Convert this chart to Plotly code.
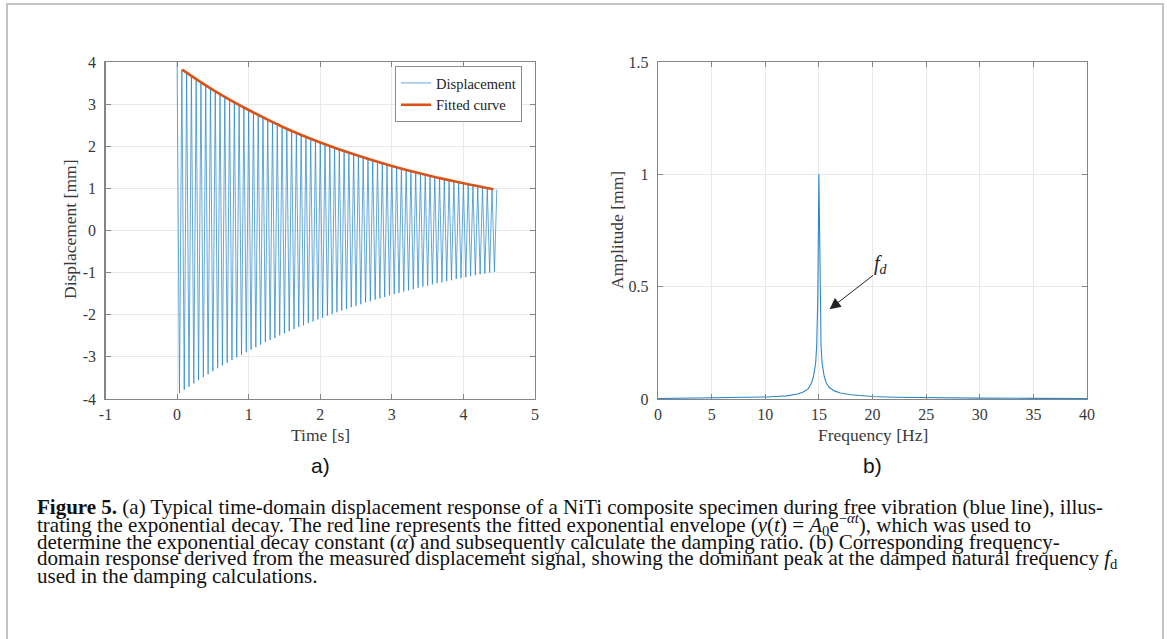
import plotly.graph_objects as go

W, H = 1167, 639

# ---------------- data ----------------
f_d_hz = 15.0  # damped natural frequency (oscillation rate of the record)

# successive positive peaks of the displacement record [mm] (one per cycle)
upper_peaks = [4.00, 3.82, 3.74, 3.67, 3.59, 3.52, 3.45, 3.37, 3.30, 3.24,
               3.17, 3.10, 3.04, 2.98, 2.92, 2.86, 2.80, 2.74, 2.68, 2.63,
               2.57, 2.52, 2.47, 2.42, 2.37, 2.32, 2.27, 2.22, 2.18, 2.13,
               2.09, 2.05, 2.00, 1.96, 1.92, 1.88, 1.84, 1.81, 1.77, 1.73,
               1.70, 1.66, 1.63, 1.59, 1.56, 1.53, 1.50, 1.47, 1.44, 1.41,
               1.38, 1.35, 1.32, 1.29, 1.27, 1.24, 1.21, 1.19, 1.17, 1.14,
               1.12, 1.09, 1.07, 1.05, 1.03, 1.01, 0.99, 0.97]
# successive negative peaks of the displacement record [mm]
lower_peaks = [-3.86, -3.78, -3.71, -3.63, -3.55, -3.48, -3.41, -3.34, -3.27, -3.20,
               -3.14, -3.07, -3.01, -2.95, -2.89, -2.83, -2.77, -2.71, -2.65, -2.60,
               -2.55, -2.49, -2.44, -2.39, -2.34, -2.29, -2.25, -2.20, -2.16, -2.11,
               -2.07, -2.02, -1.98, -1.94, -1.90, -1.86, -1.82, -1.79, -1.75, -1.71,
               -1.68, -1.64, -1.61, -1.58, -1.54, -1.51, -1.48, -1.45, -1.42, -1.39,
               -1.36, -1.33, -1.31, -1.28, -1.25, -1.23, -1.20, -1.18, -1.15, -1.13,
               -1.11, -1.08, -1.06, -1.04, -1.02, -1.00, -0.98]

# fitted exponential envelope read at a few times
fit_time = [0.07, 0.5, 1.0, 1.5, 2.0, 2.5, 3.0, 3.5, 4.0, 4.42]
fit_disp = [3.82, 3.34, 2.86, 2.44, 2.09, 1.79, 1.53, 1.31, 1.12, 0.98]

# frequency-domain amplitude spectrum
freq_hz = [0, 2, 4, 6, 8, 10, 11, 12, 13, 13.5, 14, 14.3, 14.5, 14.7, 14.8, 14.9,
           15.0, 15.1, 15.2, 15.3, 15.5, 15.7, 16, 16.5, 17, 18, 19, 20, 22, 25,
           28, 30, 35, 40]
amp_mm = [0.002, 0.003, 0.004, 0.005, 0.007, 0.009, 0.011, 0.014, 0.022, 0.030,
          0.045, 0.070, 0.100, 0.160, 0.240, 0.450, 1.000, 0.450, 0.240, 0.160,
          0.100, 0.070, 0.050, 0.035, 0.027, 0.019, 0.014, 0.011, 0.008, 0.006,
          0.004, 0.004, 0.003, 0.002]

time_ticks = [-1, 0, 1, 2, 3, 4, 5]
time_tick_text = ["-1", "0", "1", "2", "3", "4", "5"]
disp_ticks = [-4, -3, -2, -1, 0, 1, 2, 3, 4]
disp_tick_text = ["-4", "-3", "-2", "-1", "0", "1", "2", "3", "4"]
freq_ticks = [0, 5, 10, 15, 20, 25, 30, 35, 40]
amp_ticks = [0, 0.5, 1, 1.5]
amp_tick_text = ["0", "0.5", "1", "1.5"]

caption_lines = [
    "<b>Figure 5.</b> (a) Typical time-domain displacement response of a NiTi composite specimen during free vibration (blue line), illus-",
    "trating the exponential decay. The red line represents the fitted exponential envelope (<i>y</i>(<i>t</i>) = <i>A</i><sub>0</sub>e<sup>\u2212<i>\u03b1t</i></sup>), which was used to",
    "determine the exponential decay constant (<i>\u03b1</i>) and subsequently calculate the damping ratio. (b) Corresponding frequency-",
    "domain response derived from the measured displacement signal, showing the dominant peak at the damped natural frequency <i>f</i><sub>d</sub>",
    "used in the damping calculations.",
]

# ---------------- build the displacement record from its peaks ----------------
disp_values = []
for k in range(len(upper_peaks)):
    disp_values.append(upper_peaks[k])
    if k < len(lower_peaks):
        disp_values.append(lower_peaks[k])
half_period = 1.0 / (2.0 * f_d_hz)
disp_time = [i * half_period for i in range(len(disp_values))]


def px(x):
    return x / W


def py(y):
    return 1 - y / H


AX_COL = "#858585"
GRID_COL = "#e9e9e9"
TICK_FONT = dict(family="Liberation Serif", size=16, color="#3a3a3a")
TITLE_FONT = dict(family="Liberation Serif", size=17.5, color="#3a3a3a")

fig = go.Figure()

fig.add_trace(go.Scatter(
    x=disp_time, y=disp_values, mode="lines", name="Displacement",
    line=dict(color="#1f82c8", width=0.7), xaxis="x", yaxis="y"))
fig.add_trace(go.Scatter(
    x=fit_time, y=fit_disp, mode="lines", name="Fitted curve",
    line=dict(color="#D95319", width=2.6, shape="spline"), xaxis="x", yaxis="y"))
fig.add_trace(go.Scatter(
    x=freq_hz, y=amp_mm, mode="lines", name="Spectrum", showlegend=False,
    line=dict(color="#2f86c6", width=1.1), xaxis="x2", yaxis="y2"))

common = dict(showline=True, linecolor=AX_COL, linewidth=1.3, mirror="allticks",
              ticks="inside", ticklen=5, tickcolor=AX_COL, tickwidth=1,
              showgrid=True, gridcolor=GRID_COL, gridwidth=1, zeroline=False,
              tickfont=TICK_FONT, automargin=False)

fig.update_layout(
    template="none",
    width=W, height=H, autosize=False,
    margin=dict(l=0, r=0, t=0, b=0, pad=0, autoexpand=False),
    paper_bgcolor="white", plot_bgcolor="white",
    showlegend=True,
    xaxis=dict(domain=[px(105.5), px(535)], range=[-1, 5], tickvals=time_ticks,
               ticktext=time_tick_text, anchor="y", **common),
    yaxis=dict(domain=[py(399), py(62)], range=[-4, 4], tickvals=disp_ticks,
               ticktext=disp_tick_text, anchor="x", ticklabelstandoff=5, **common),
    xaxis2=dict(domain=[px(658), px(1087)], range=[0, 40], tickvals=freq_ticks,
                anchor="y2", **common),
    yaxis2=dict(domain=[py(399), py(62)], range=[0, 1.5], tickvals=amp_ticks,
                ticktext=amp_tick_text, anchor="x2", ticklabelstandoff=5, **common),
    legend=dict(x=px(522), y=py(66), xanchor="right", yanchor="top",
                bgcolor="white", bordercolor="#8c8c8c", borderwidth=1,
                font=dict(family="Liberation Serif", size=14.5, color="#222"),
                tracegroupgap=0, itemwidth=30),
)

ann = []


def label(x, y, text, font, angle=0):
    ann.append(dict(x=px(x), y=py(y), xref="paper", yref="paper", text=text,
                    showarrow=False, xanchor="center", yanchor="middle",
                    textangle=angle, font=font))


# axis titles
label(320, 435, "Time [s]", TITLE_FONT)
label(872.5, 435, "Frequency [Hz]", TITLE_FONT)
label(70, 230, "Displacement [mm]", TITLE_FONT, -90)
label(617, 230, "Amplitude [mm]", TITLE_FONT, -90)
# panel labels
PANEL_FONT = dict(family="Liberation Sans", size=21, color="#111")
label(320, 465, "a)", PANEL_FONT)
label(872.5, 465, "b)", PANEL_FONT)
# f_d arrow and label
ann.append(dict(x=16.0, y=0.40, xref="x2", yref="y2", ax=20.2, ay=0.556,
                axref="x2", ayref="y2", text="", showarrow=True, arrowhead=2,
                arrowsize=2.2, arrowwidth=1, arrowcolor="#222", standoff=0))
ann.append(dict(x=20.75, y=0.60, xref="x2", yref="y2", xanchor="center", yanchor="middle",
                text="<i>f</i><sub><i>d</i></sub>", showarrow=False,
                font=dict(family="Liberation Serif", size=20, color="#222")))
# caption
cap_y = [507, 524.3, 541.6, 558.9, 576.2]
for line, yy in zip(caption_lines, cap_y):
    ann.append(dict(x=px(35), y=py(yy), xref="paper", yref="paper", text=line,
                    showarrow=False, xanchor="left", yanchor="middle",
                    font=dict(family="Liberation Serif", size=21, color="#111")))
fig.update_layout(annotations=ann)

# outer frame of the figure box
fig.add_shape(type="rect", xref="paper", yref="paper", x0=px(7), x1=px(1163),
              y0=py(642), y1=py(4), line=dict(color="#c4c4c4", width=2),
              fillcolor="rgba(0,0,0,0)")

fig.write_html("out.html",
               config={"displayModeBar": False, "staticPlot": True},
               post_script="document.body.style.margin='0px';"
                           "document.body.style.overflow='hidden';")
